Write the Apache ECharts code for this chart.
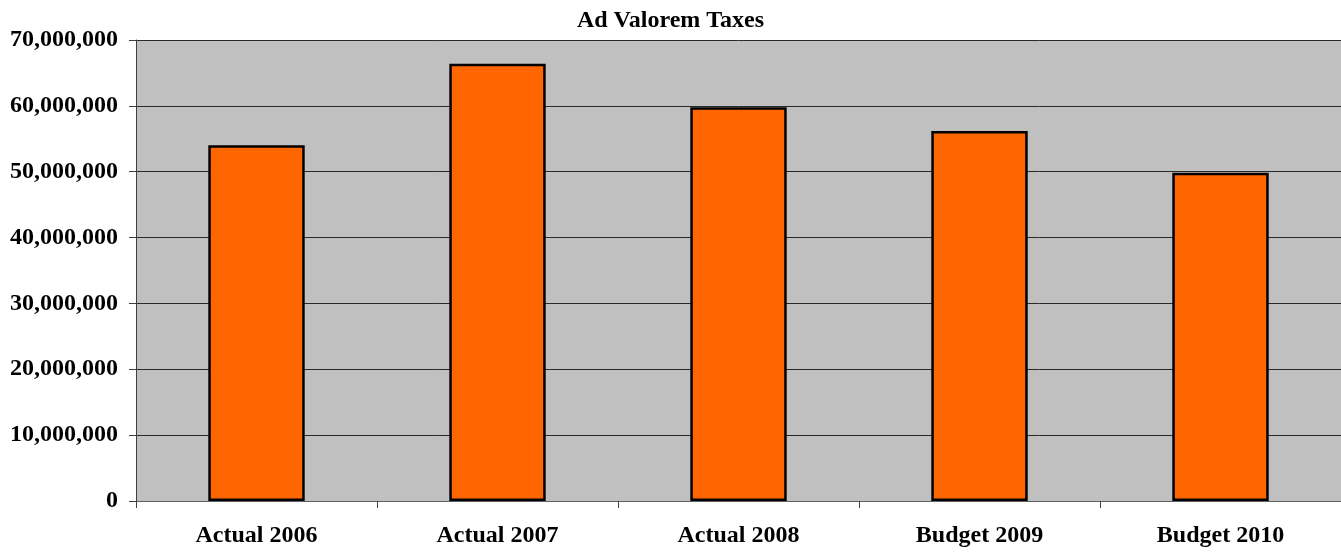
<!DOCTYPE html>
<html>
<head>
<meta charset="utf-8">
<script src="https://cdn.jsdelivr.net/npm/echarts@6/dist/echarts.min.js"></script>
<style>
  html, body { margin:0; padding:0; background:#fff; }
  #chart { width:1341px; height:552px; }
</style>
</head>
<body>
<div id="chart"></div>
<script>
var categories = ['Actual 2006', 'Actual 2007', 'Actual 2008', 'Budget 2009', 'Budget 2010'];
var taxValues = [54000000, 66400000, 59800000, 56200000, 49850000];
var yTicks = [0, 10000000, 20000000, 30000000, 40000000, 50000000, 60000000, 70000000];

var serif = '"Liberation Serif", "DejaVu Serif", serif';
var myChart = echarts.init(document.getElementById('chart'));

var option = {
    animation: false,
    title: {
        text: 'Ad Valorem Taxes',
        left: 'center',
        top: 4,
        textStyle: { fontFamily: serif, fontSize: 24, fontWeight: 'bold', color: '#000' }
    },
    grid: {
        left: 136,
        right: 0,
        top: 40,
        bottom: 51,
        show: true,
        backgroundColor: '#c0c0c0',
        borderWidth: 0
    },
    xAxis: {
        type: 'category',
        data: categories,
        boundaryGap: true,
        axisLine: { lineStyle: { color: '#606060', width: 1 } },
        axisTick: { show: true, length: 7, lineStyle: { color: '#404040' } },
        axisLabel: {
            margin: 23,
            color: '#000',
            fontFamily: serif,
            fontSize: 24,
            fontWeight: 'bold'
        }
    },
    yAxis: {
        type: 'value',
        min: yTicks[0],
        max: yTicks[yTicks.length - 1],
        interval: 10000000,
        axisLine: { show: true, lineStyle: { color: '#404040', width: 1 } },
        axisTick: { show: true, length: 7, lineStyle: { color: '#404040' } },
        splitLine: { show: true, lineStyle: { color: '#2a2a2a', width: 1 } },
        axisLabel: {
            margin: 18,
            color: '#000',
            fontFamily: serif,
            fontSize: 24,
            fontWeight: 'bold',
            formatter: function (v) { return v.toLocaleString('en-US'); }
        }
    },
    series: [
        {
            type: 'bar',
            data: taxValues,
            barWidth: '40%',
            itemStyle: {
                color: '#ff6600',
                borderColor: '#000',
                borderWidth: 2.5
            }
        }
    ]
};
myChart.setOption(option);
</script>
</body>
</html>
